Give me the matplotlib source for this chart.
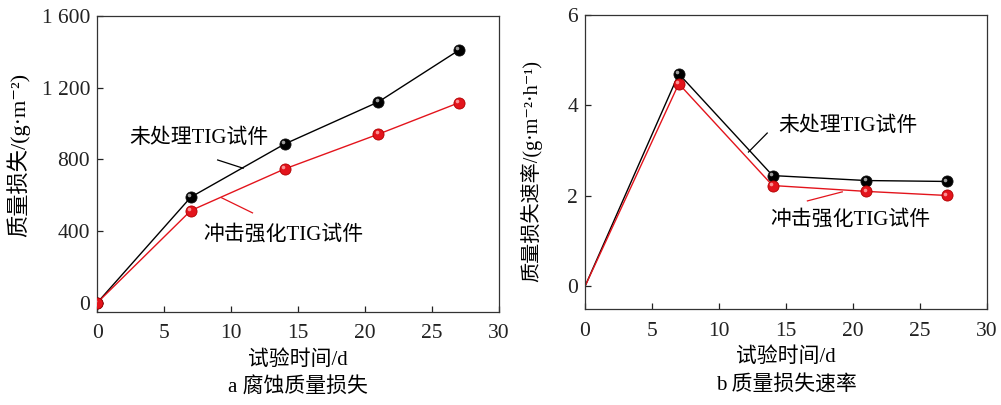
import matplotlib
matplotlib.use('Agg')
import matplotlib.pyplot as plt
import matplotlib.transforms as mtransforms

plt.rcParams['font.family'] = ['Liberation Serif', 'Noto Sans CJK SC', 'DejaVu Serif']
plt.rcParams['axes.unicode_minus'] = False

# data
days = [0, 7, 14, 21, 27]
loss_untreated = [0, 590, 886, 1121, 1409]
loss_peened = [0, 515, 747, 941, 1116]
rate_untreated = [0, 4.70, 2.45, 2.34, 2.32]
rate_peened = [0, 4.48, 2.23, 2.10, 2.01]

label_untreated = '未处理TIG试件'
label_peened = '冲击强化TIG试件'

RED = '#e3141c'
fs_cn = 15
fs_tick = 15.5

fig = plt.figure(figsize=(10.01, 4.05), dpi=100)
ax1 = fig.add_axes([0.097, 0.230, 0.4015, 0.7305])
ax2 = fig.add_axes([0.5844, 0.237, 0.4016, 0.726])

def draw_series(ax, x, y, color, edge, hl, start=0):
    ax.plot(x, y, color=color, lw=1.0, zorder=2)
    ax.plot(x[start:], y[start:], ls='none', marker='o', ms=8, mfc=color, mec=edge, mew=0.6, zorder=3)
    # small highlight, upper left, to look like the shaded balls
    tr = mtransforms.offset_copy(ax.transData, fig=fig, x=-1.3, y=1.3, units='points')
    ax.plot(x[start:], y[start:], ls='none', marker='o', ms=2.6, mfc=hl, mec='none',
            alpha=0.85, zorder=4, transform=tr)

# panel a
draw_series(ax1, days, loss_untreated, 'black', '#111111', '#bbbbbb')
draw_series(ax1, days, loss_peened, RED, '#b00000', '#ffaaaa')
ax1.set_xlim(0, 30)
ax1.set_ylim(-50, 1600)
ax1.set_xticks([0, 5, 10, 15, 20, 25, 30])
ax1.set_yticks([0, 400, 800, 1200, 1600])
ax1.set_yticklabels(['0', '400', '800', '1 200', '1 600'])
ax1.set_ylabel('质量损失/(g·m⁻²)', fontsize=16)
ax1.yaxis.set_label_coords(-0.167, 0.53)
ax1.set_xlabel('试验时间/d', fontsize=fs_cn, labelpad=5)
ax1.text(0.5, -0.222, 'a 腐蚀质量损失', transform=ax1.transAxes, ha='center', va='top', fontsize=fs_cn)
ax1.text(2.4, 919, label_untreated, fontsize=fs_cn, va='center', ha='left')
ax1.plot([9.0, 10.9], [797, 751], color='black', lw=0.9)
ax1.text(7.9, 380, label_peened, fontsize=fs_cn, va='center', ha='left')
ax1.plot([9.3, 11.6], [586, 502], color=RED, lw=0.9)

# panel b
draw_series(ax2, days, rate_untreated, 'black', '#111111', '#bbbbbb', start=1)
draw_series(ax2, days, rate_peened, RED, '#b00000', '#ffaaaa', start=1)
ax2.set_xlim(0, 30)
ax2.set_ylim(-0.5, 6)
ax2.set_xticks([0, 5, 10, 15, 20, 25, 30])
ax2.set_yticks([0, 2, 4, 6])
ax2.set_ylabel('质量损失速率/(g·m⁻²·h⁻¹)', fontsize=14.5)
ax2.yaxis.set_label_coords(-0.107, 0.47)
ax2.set_xlabel('试验时间/d', fontsize=fs_cn, labelpad=5)
ax2.text(0.5, -0.225, 'b 质量损失速率', transform=ax2.transAxes, ha='center', va='top', fontsize=fs_cn)
ax2.text(14.4, 3.53, label_untreated, fontsize=fs_cn, va='center', ha='left')
ax2.plot([12.2, 13.6], [2.97, 3.39], color='black', lw=0.9)
ax2.text(13.8, 1.47, label_peened, fontsize=fs_cn, va='center', ha='left')
ax2.plot([16.6, 19.2], [1.89, 2.09], color=RED, lw=0.9)

for ax in (ax1, ax2):
    ax.tick_params(direction='in', length=4, width=0.9, labelsize=fs_tick, colors='#222222')
    ax.tick_params(axis='x', pad=9)
    ax.tick_params(axis='y', pad=5)
    for s in ax.spines.values():
        s.set_linewidth(0.9)
        s.set_color('#333333')

fig.savefig('out.png', dpi=100)
